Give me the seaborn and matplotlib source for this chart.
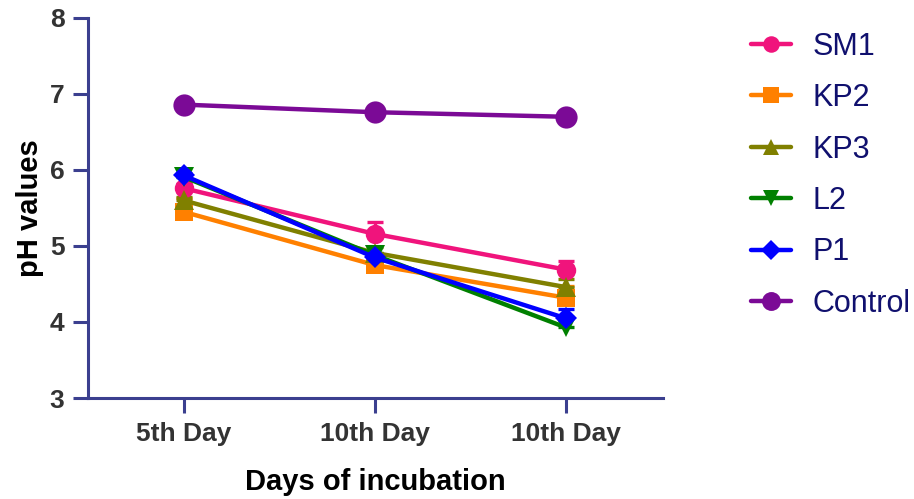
import matplotlib
matplotlib.use("Agg")
import matplotlib.pyplot as plt
import seaborn as sns
import numpy as np
import pandas as pd

# Incubation time points (the third label repeats as printed on the axis)
days = ["5th Day", "10th Day", "10th Day"]

groups = ["SM1", "KP2", "KP3", "L2", "P1", "Control"]

ph_sm1 = [5.76, 5.16, 4.69]
ph_kp2 = [5.45, 4.75, 4.32]
ph_kp3 = [5.60, 4.91, 4.46]
ph_l2 = [5.91, 4.88, 3.93]
ph_p1 = [5.93, 4.85, 4.05]
ph_control = [6.86, 6.76, 6.70]

# Upper error (SD) for each point
err_sm1 = [0.05, 0.16, 0.11]
err_kp2 = [0.18, 0.05, 0.16]
err_kp3 = [0.05, 0.08, 0.10]
err_l2 = [0.03, 0.03, 0.13]
err_p1 = [0.03, 0.03, 0.12]
err_control = [0.02, 0.02, 0.02]

values = [ph_sm1, ph_kp2, ph_kp3, ph_l2, ph_p1, ph_control]
errors = [err_sm1, err_kp2, err_kp3, err_l2, err_p1, err_control]

colors = ["#f0147c", "#ff8000", "#808000", "#008000", "#0000ff", "#7b0a96"]
markers = ["o", "s", "^", "v", "D", "o"]
msizes = [14, 13.5, 14, 14, 11.5, 16]

rows = []
for g, vals, errs in zip(groups, values, errors):
    for i, (v, e) in enumerate(zip(vals, errs)):
        rows.append({"group": g, "pos": i, "pH": v, "err": e})
df = pd.DataFrame(rows)

sns.set_style("white")
plt.rcParams["font.family"] = ["Liberation Sans", "DejaVu Sans"]

axis_color = "#3b3f8f"

fig = plt.figure(figsize=(9.14, 4.99), dpi=100)
ax = fig.add_axes([0.0963, 0.2024, 0.629, 0.7616])

for g, c, m, ms in zip(groups, colors, markers, msizes):
    sub = df[df["group"] == g]
    ax.errorbar(sub["pos"], sub["pH"],
                yerr=[np.zeros(len(sub)), sub["err"]],
                fmt="none", ecolor=c, elinewidth=2.4, capsize=5.8,
                capthick=2.4, zorder=2)
    sns.lineplot(data=sub, x="pos", y="pH", color=c, marker=m,
                 markersize=ms, markeredgewidth=0, linewidth=2.8,
                 label=g, ax=ax, zorder=3)

ax.set_xlim(-0.5, 2.51)
ax.set_ylim(3, 8)
ax.set_xticks(range(len(days)))
ax.set_xticklabels(days)
ax.set_yticks([3, 4, 5, 6, 7, 8])

for side in ["top", "right"]:
    ax.spines[side].set_visible(False)
for side in ["left", "bottom"]:
    ax.spines[side].set_color(axis_color)
    ax.spines[side].set_linewidth(2.2)

ax.tick_params(axis="both", direction="out", length=11, width=2.2,
               color=axis_color, labelcolor="#333333", labelsize=19, pad=6,
               bottom=True, left=True)
for lab in ax.get_xticklabels() + ax.get_yticklabels():
    lab.set_fontweight("bold")

ax.set_xlabel("Days of incubation", fontsize=21, fontweight="bold",
              color="black", labelpad=16)
ax.set_ylabel("pH values", fontsize=21, fontweight="bold",
              color="black", labelpad=4)

handles, labels = ax.get_legend_handles_labels()
ax.get_legend().remove()
for h in handles:
    h.set_linewidth(3.2)
leg = fig.legend(handles, labels, loc="upper left",
                 bbox_to_anchor=(0.805, 0.967), frameon=False,
                 fontsize=22, labelcolor="#10106e", handlelength=1.3,
                 handletextpad=0.7, labelspacing=0.70, markerscale=0.85,
                 borderpad=0)

fig.savefig("out.png", dpi=100)
